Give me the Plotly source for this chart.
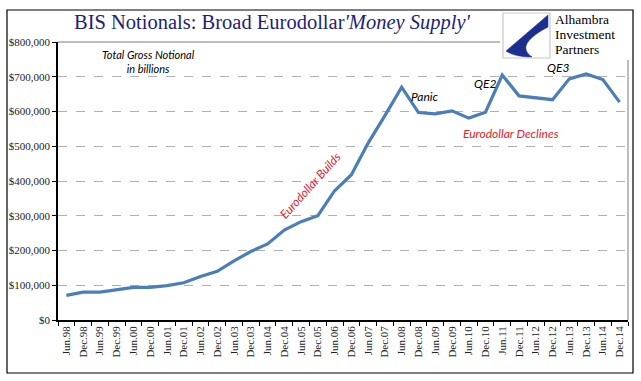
import plotly.graph_objects as go

periods = ["Jun.98", "Dec.98", "Jun.99", "Dec.99", "Jun.00", "Dec.00", "Jun.01", "Dec.01",
           "Jun.02", "Dec.02", "Jun.03", "Dec.03", "Jun.04", "Dec.04", "Jun.05", "Dec.05",
           "Jun.06", "Dec.06", "Jun.07", "Dec.07", "Jun.08", "Dec.08", "Jun.09", "Dec.09",
           "Jun.10", "Dec.10", "Jun.11", "Dec.11", "Jun.12", "Dec.12", "Jun.13", "Dec.13",
           "Jun.14", "Dec.14"]
notional = [71000, 80000, 80000, 88000, 94000, 94000, 99000, 107000,
            125000, 140000, 170000, 197000, 219000, 259000, 283000, 300000,
            372000, 418000, 509000, 588000, 670000, 597000, 593000, 602000,
            581000, 598000, 705000, 645000, 640000, 634000, 694000, 708000,
            692000, 627000]
y_ticks = [0, 100000, 200000, 300000, 400000, 500000, 600000, 700000, 800000]
y_tick_labels = ["$" + format(v, ",") for v in y_ticks]

W, H = 641, 381
L, R, T, B = 58, 13, 42, 61
PW, PH = W - L - R, H - T - B


def px(x):
    return (x - L) / PW


def py(y):
    return (H - B - y) / PH


fig = go.Figure()
fig.add_trace(go.Scatter(x=periods, y=notional, mode="lines",
                         line=dict(color="#4A7EBB", width=3.2), hoverinfo="skip"))

serif = "Liberation Serif"
fig.update_layout(
    width=W, height=H, margin=dict(l=L, r=R, t=T, b=B, autoexpand=False),
    paper_bgcolor="white", plot_bgcolor="white", showlegend=False,
    xaxis=dict(type="category", range=[-0.5, len(periods) - 0.5], tickangle=-90,
               tickson="boundaries", ticks="outside",
               ticklen=4, tickcolor="black", showline=True, linecolor="black", linewidth=1.5,
               showgrid=False, automargin=False,
               tickfont=dict(family=serif, size=11, color="#222")),
    yaxis=dict(range=[0, 800000], tickvals=y_ticks, ticktext=y_tick_labels,
               ticks="outside", ticklen=4, tickcolor="black", showline=True,
               linecolor="black", linewidth=1.5, showgrid=True, gridcolor="#b0b0b0",
               griddash="dash", gridwidth=1, zeroline=False, automargin=False,
               tickfont=dict(family=serif, size=11, color="#222")),
)

shapes = []
# plot top and right borders
shapes.append(dict(type="line", xref="paper", yref="paper", x0=0, x1=1, y0=1, y1=1,
                   line=dict(color="#7a7a7a", width=1)))
shapes.append(dict(type="line", xref="paper", yref="paper", x0=1, x1=1, y0=0, y1=1,
                   line=dict(color="#7a7a7a", width=1)))
# outer frame
shapes.append(dict(type="rect", xref="paper", yref="paper", x0=px(7), x1=px(633),
                   y0=py(373), y1=py(10), line=dict(color="black", width=1.2)))
# logo background covering border lines
shapes.append(dict(type="rect", xref="paper", yref="paper", x0=px(500), x1=px(632),
                   y0=py(60), y1=py(12), fillcolor="white", line=dict(width=0)))
shapes.append(dict(type="rect", xref="paper", yref="paper", x0=px(503), x1=px(550),
                   y0=py(58), y1=py(13), fillcolor="white",
                   line=dict(color="#c8c8c8", width=1.2)))
# logo swoosh
path = "M {},{} L {},{} Q {},{} {},{} Q {},{} {},{} Z".format(
    px(548), py(15), px(506), py(51), px(514), py(57), px(532), py(57),
    px(514), py(45), px(548), py(27))
shapes.append(dict(type="path", xref="paper", yref="paper", path=path,
                   fillcolor="#1c2f8e", line=dict(color="#1c2f8e", width=0.5)))
fig.update_layout(shapes=shapes)


def note(text, x, y, size, color, family, anchor="center", angle=0):
    return dict(xref="paper", yref="paper", x=px(x), y=py(y), xanchor=anchor,
                yanchor="middle", showarrow=False, text=text, textangle=angle,
                align="center", font=dict(family=family, size=size, color=color))


ann = []
ann.append(note("BIS Notionals: Broad Eurodollar<i>'Money Supply'</i>", 72, 22, 20.5,
                "#1e1e78", serif, anchor="left"))
for i, word in enumerate(["Alhambra", "Investment", "Partners"]):
    ann.append(note(word, 553, 19.5 + 15 * i, 13.5, "black", serif, anchor="left"))
sans = "Lato"
ann.append(note("<i>Total Gross Notional<br>in billions</i>", 148, 61, 11, "black", sans))
ann.append(note("<i>Eurodollar Builds</i>", 310, 185, 12, "#e0202a", sans, angle=-48))
ann.append(note("<i>Eurodollar Declines</i>", 511, 133, 12, "#e0202a", sans))
for txt, x, y in [("Panic", 425, 96), ("QE2", 485, 83), ("QE3", 558, 67)]:
    ann.append(note("<i>" + txt + "</i>", x, y, 12, "black", sans))
fig.update_layout(annotations=ann)

fig.write_html("out.html", config={"displayModeBar": False},
               post_script="document.body.style.margin='0';")
